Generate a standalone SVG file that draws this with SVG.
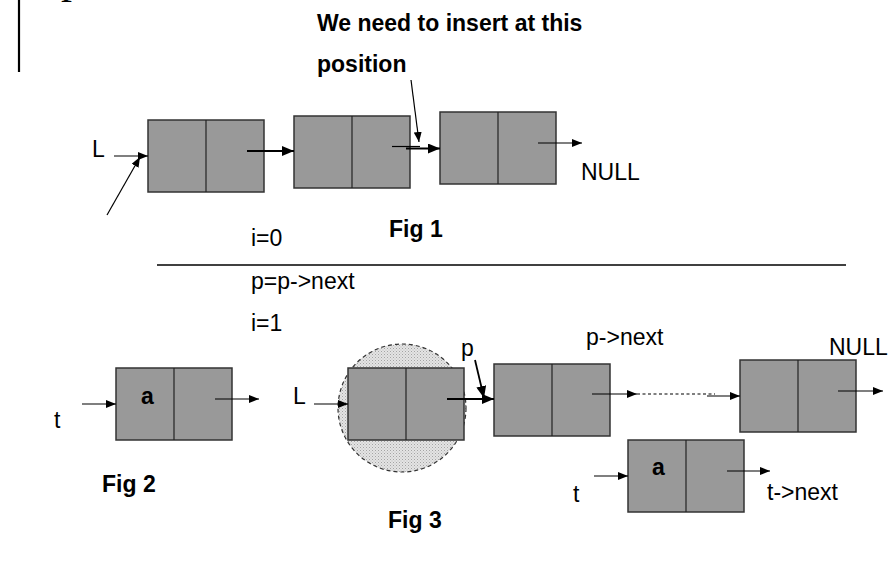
<svg xmlns="http://www.w3.org/2000/svg" width="892" height="563" viewBox="0 0 892 563">
  <style>
    .txt { font-family: "Liberation Sans", Arial, sans-serif; font-size: 23px; fill: #000; }
    .bold { font-weight: bold; }
    .cell { fill: #999999; stroke: #333333; stroke-width: 1.5; }
    .div { stroke: #222222; stroke-width: 1.2; }
    .arr { stroke: #000; stroke-width: 1.2; fill: none; marker-end: url(#head); }
    .arrb { stroke: #000; stroke-width: 1.8; fill: none; marker-end: url(#headb); }
    .ln { stroke: #000; stroke-width: 1.2; fill: none; }
  </style>
  <defs>
    <marker id="head" markerUnits="userSpaceOnUse" markerWidth="10" markerHeight="8" refX="10" refY="4" orient="auto">
      <path d="M0,0 L10,4 L0,8 z" fill="#000"/>
    </marker>
    <marker id="headb" markerUnits="userSpaceOnUse" markerWidth="12" markerHeight="10" refX="12" refY="5" orient="auto">
      <path d="M0,0 L12,5 L0,10 z" fill="#000"/>
    </marker>
    <pattern id="stipple" width="3" height="3" patternUnits="userSpaceOnUse">
      <rect width="3" height="3" fill="#e4e4e4"/>
      <rect x="0" y="0" width="1" height="1" fill="#a4a4a4"/>
      <rect x="1.5" y="1.5" width="1" height="1" fill="#b8b8b8"/>
    </pattern>
  </defs>

  <!-- page margin bar and clipped letter -->
  <line x1="19" y1="0" x2="19" y2="72" stroke="#000" stroke-width="2.2"/>
  <text x="61" y="-7" style="font-family: 'Liberation Serif', 'Times New Roman', serif; font-size: 44px;">p</text>

  <!-- headings and captions -->
  <text class="txt bold" x="317" y="31">We need to insert at this</text>
  <text class="txt bold" x="317" y="72">position</text>
  <text class="txt bold" x="389" y="237">Fig 1</text>
  <text class="txt" x="251" y="246">i=0</text>
  <line x1="157" y1="265" x2="846" y2="265" stroke="#000" stroke-width="1.5"/>
  <text class="txt" x="251" y="289">p=p-&gt;next</text>
  <text class="txt" x="251" y="331">i=1</text>
  <text class="txt bold" x="102" y="492">Fig 2</text>
  <text class="txt bold" x="388" y="528">Fig 3</text>

  <!-- Fig 1 labels -->
  <text class="txt" x="92" y="157">L</text>
  <text class="txt" x="581" y="180">NULL</text>

  <!-- Fig 2 / Fig 3 labels -->
  <text class="txt" x="54" y="428">t</text>
  <text class="txt" x="293" y="404">L</text>
  <text class="txt" x="461" y="356">p</text>
  <text class="txt" x="586" y="345">p-&gt;next</text>
  <text class="txt" x="829" y="355">NULL</text>
  <text class="txt" x="573" y="502">t</text>
  <text class="txt" x="767" y="500">t-&gt;next</text>

  <!-- highlighted current node -->
  <circle cx="402" cy="408" r="64" fill="url(#stipple)" stroke="#333" stroke-width="1.2" stroke-dasharray="4 3"/>

  <!-- Fig 1 nodes -->
  <g id="f1-n1">
    <rect class="cell" x="148" y="120" width="116" height="72"/>
    <line class="div" x1="206" y1="120" x2="206" y2="192"/>
  </g>
  <g id="f1-n2">
    <rect class="cell" x="294" y="116" width="116" height="72"/>
    <line class="div" x1="352" y1="116" x2="352" y2="188"/>
  </g>
  <g id="f1-n3">
    <rect class="cell" x="440" y="112" width="116" height="72"/>
    <line class="div" x1="498" y1="112" x2="498" y2="184"/>
  </g>

  <!-- Fig 2 node -->
  <g id="f2-t">
    <rect class="cell" x="116" y="368" width="116" height="72"/>
    <line class="div" x1="174" y1="368" x2="174" y2="440"/>
    <text class="txt bold" x="141" y="404">a</text>
  </g>

  <!-- Fig 3 nodes -->
  <g id="f3-n1">
    <rect class="cell" x="348" y="368" width="116" height="72"/>
    <line class="div" x1="406" y1="368" x2="406" y2="440"/>
  </g>
  <g id="f3-n2">
    <rect class="cell" x="494" y="364" width="116" height="72"/>
    <line class="div" x1="552" y1="364" x2="552" y2="436"/>
  </g>
  <g id="f3-last">
    <rect class="cell" x="740" y="360" width="116" height="72"/>
    <line class="div" x1="798" y1="360" x2="798" y2="432"/>
  </g>
  <g id="f3-t">
    <rect class="cell" x="628" y="440" width="116" height="72"/>
    <line class="div" x1="686" y1="440" x2="686" y2="512"/>
    <text class="txt bold" x="652" y="475">a</text>
  </g>

  <!-- connectors -->
  <g id="connectors">
    <!-- Fig 1 -->
    <line class="arr" x1="114" y1="156" x2="148" y2="156"/>
    <line class="arr" x1="107" y1="215" x2="140" y2="157"/>
    <line class="arrb" x1="247" y1="151" x2="294" y2="151"/>
    <line class="ln" x1="392" y1="146.5" x2="420" y2="146.5" stroke-width="1.6"/>
    <line class="arrb" x1="406" y1="148.5" x2="440" y2="148.5"/>
    <line class="arr" x1="411" y1="80" x2="419" y2="142"/>
    <line class="arr" x1="538" y1="143" x2="582" y2="143"/>
    <!-- Fig 2 -->
    <line class="arr" x1="82" y1="404" x2="116" y2="404"/>
    <line class="arr" x1="215" y1="399" x2="259" y2="399"/>
    <!-- Fig 3 -->
    <line class="arr" x1="314" y1="404" x2="348" y2="404"/>
    <line class="arrb" x1="447" y1="399" x2="494" y2="399"/>
    <line class="arrb" x1="475" y1="360" x2="484" y2="398"/>
    <line class="arr" x1="592" y1="394" x2="637" y2="394"/>
    <line class="ln" x1="637" y1="394" x2="715" y2="394" stroke-dasharray="3 2.5"/>
    <line class="arr" x1="707" y1="396" x2="740" y2="396"/>
    <line class="arr" x1="838" y1="391" x2="883" y2="391"/>
    <line class="arr" x1="594" y1="476" x2="628" y2="476"/>
    <line class="arr" x1="727" y1="471" x2="770" y2="471"/>
  </g>
</svg>
